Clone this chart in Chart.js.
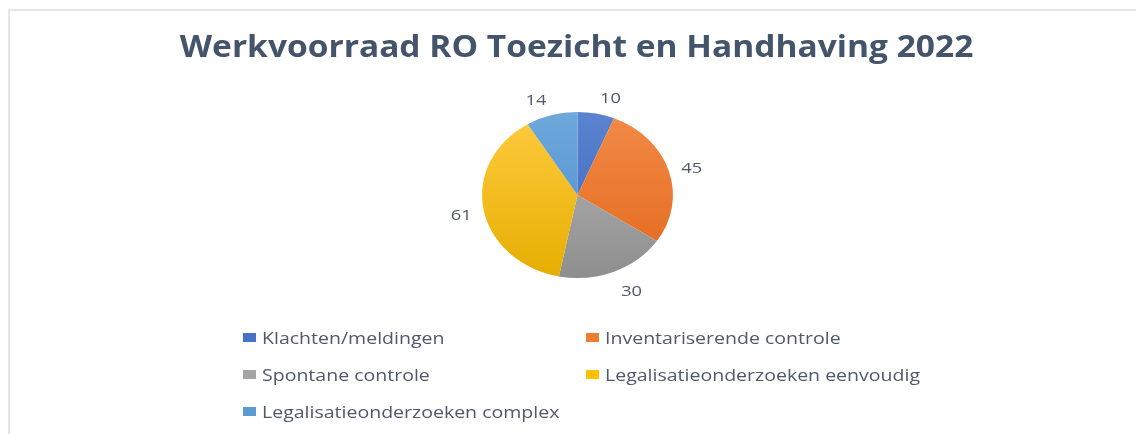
<!DOCTYPE html>
<html>
<head>
<meta charset="utf-8">
<script src="https://cdn.jsdelivr.net/npm/chart.js@4"></script>
<style>
    html, body { margin: 0; padding: 0; background: #fff; width: 1136px; height: 434px; overflow: hidden; }
    #box {
        position: absolute; left: 8px; top: 9px; width: 1128px; height: 425px;
        border-top: 2px solid #e3e6ec; border-left: 2px solid #e3e6ec;
    }
    #pieChart { display: block; }
</style>
</head>
<body>
<div id="box"><canvas id="pieChart" width="1126" height="423"></canvas></div>
<script>
// data
const categories = ['Klachten/meldingen', 'Inventariserende controle', 'Spontane controle',
    'Legalisatieonderzoeken eenvoudig', 'Legalisatieonderzoeken complex'];
const values = [10, 45, 30, 61, 14];
const chartTitle = 'Werkvoorraad RO Toezicht en Handhaving 2022';

const baseColors = ['#4472C4', '#ED7D31', '#A5A5A5', '#FFC000', '#5B9BD5'];
const topColors = ['#5A84D0', '#F28A48', '#B8B8B8', '#FFCB40', '#6EA8DC'];
const bottomColors = ['#3A64BA', '#E2681A', '#8E8E8E', '#E6AE00', '#4A8CCB'];

const SX = 1.15;      // the original picture is stretched sideways
const TEXT_SX = 1.22; // same for small texts
const textColor = '#4f596a';

const gradientFill = (context) => {
    const chart = context.chart;
    const area = chart.chartArea;
    if (!area) return baseColors[context.dataIndex];
    const g = chart.ctx.createLinearGradient(0, area.top, 0, area.bottom);
    g.addColorStop(0, topColors[context.dataIndex]);
    g.addColorStop(1, bottomColors[context.dataIndex]);
    return g;
};

// draw text stretched around its anchor
const wideText = (ctx, text, x, y, sx) => {
    ctx.save();
    ctx.translate(x, y);
    ctx.scale(sx, 1);
    ctx.fillText(text, 0, 0);
    ctx.restore();
};

const stretchPlugin = {
    id: 'stretch',
    beforeDatasetsDraw(chart) {
        const arc = chart.getDatasetMeta(0).data[0];
        const ctx = chart.ctx;
        ctx.save();
        ctx.translate(arc.x, 0);
        ctx.scale(SX, 1);
        ctx.translate(-arc.x, 0);
    },
    afterDatasetsDraw(chart) {
        chart.ctx.restore();
    }
};

const titlePlugin = {
    id: 'wideTitle',
    afterDraw(chart) {
        const ctx = chart.ctx;
        ctx.save();
        ctx.font = 'bold 30px "Open Sans"';
        ctx.fillStyle = '#44546A';
        ctx.textAlign = 'center';
        ctx.textBaseline = 'alphabetic';
        wideText(ctx, chartTitle, 566.5, 46, 1.117);
        ctx.restore();
    }
};

const valueLabels = {
    id: 'valueLabels',
    afterDraw(chart) {
        const ctx = chart.ctx;
        ctx.save();
        ctx.font = '15px "Open Sans"';
        ctx.fillStyle = textColor;
        ctx.textAlign = 'center';
        ctx.textBaseline = 'middle';
        chart.getDatasetMeta(0).data.forEach((arc, i) => {
            const mid = (arc.startAngle + arc.endAngle) / 2;
            const r = arc.outerRadius + 18;
            const txt = String(values[i]);
            const half = ctx.measureText(txt).width * TEXT_SX / 2;
            const c = Math.cos(mid), s = Math.sin(mid);
            const x = arc.x + c * r * SX + Math.sign(c) * half * Math.abs(s);
            const y = arc.y + s * r + 3;
            wideText(ctx, txt, x, y, TEXT_SX);
        });
        ctx.restore();
    }
};

// legend in two columns like the original
const gridLegend = {
    id: 'gridLegend',
    afterDraw(chart) {
        const ctx = chart.ctx;
        const colX = [233, 576];
        const rowY = [333, 370, 407];
        ctx.save();
        ctx.font = '16px "Open Sans"';
        ctx.textBaseline = 'alphabetic';
        categories.forEach((name, i) => {
            const x = colX[i % 2];
            const y = rowY[Math.floor(i / 2)];
            ctx.fillStyle = baseColors[i];
            ctx.fillRect(x, y - 11, 13, 9);
            ctx.fillStyle = textColor;
            wideText(ctx, name, x + 19, y, TEXT_SX);
        });
        ctx.restore();
    }
};

new Chart(document.getElementById('pieChart'), {
    type: 'pie',
    data: {
        labels: categories,
        datasets: [{
            data: values,
            backgroundColor: gradientFill,
            borderWidth: 0
        }]
    },
    options: {
        responsive: false,
        animation: false,
        layout: { padding: { left: 9, right: 0, top: 101, bottom: 156 } },
        plugins: {
            legend: { display: false },
            tooltip: { enabled: false },
            title: { display: false }
        }
    },
    plugins: [stretchPlugin, titlePlugin, valueLabels, gridLegend]
});
</script>
</body>
</html>
